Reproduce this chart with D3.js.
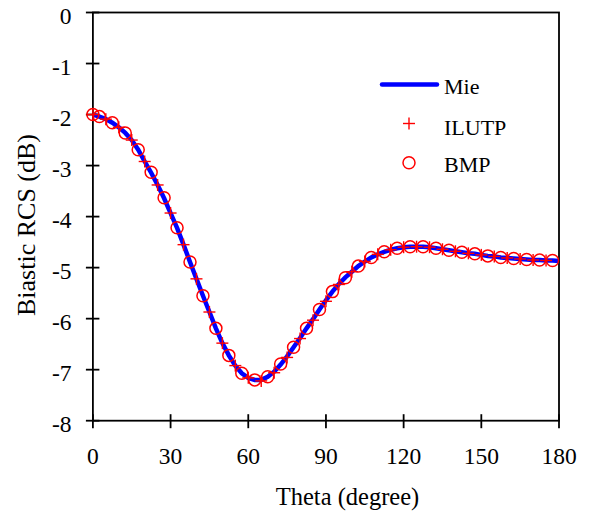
<!DOCTYPE html>
<html><head><meta charset="utf-8">
<script src="https://cdn.jsdelivr.net/npm/d3@7"></script>
<style>body{margin:0;background:#fff}svg{display:block}text{font-family:"Liberation Serif","Times New Roman",serif;fill:#000}</style>
</head><body>
<script>
// Mie curve, theta 0..180 step 2.5
const mieTheta = d3.range(0, 180.01, 2.5);
const mieValues = [-2.00,-2.04,-2.09,-2.16,-2.25,-2.36,-2.50,-2.69,-2.92,-3.14,-3.38,-3.64,-3.93,-4.22,-4.55,-4.89,-5.22,-5.55,-5.87,-6.19,-6.48,-6.72,-6.92,-7.07,-7.16,-7.20,-7.20,-7.14,-7.04,-6.90,-6.74,-6.56,-6.38,-6.19,-6.01,-5.82,-5.64,-5.47,-5.32,-5.19,-5.08,-4.97,-4.88,-4.80,-4.74,-4.69,-4.65,-4.62,-4.60,-4.59,-4.59,-4.59,-4.60,-4.62,-4.64,-4.66,-4.68,-4.70,-4.72,-4.73,-4.75,-4.77,-4.78,-4.80,-4.81,-4.82,-4.83,-4.84,-4.85,-4.85,-4.86,-4.86,-4.87];
// ILUTP, theta 0..175 step 5
const ilutpTheta = d3.range(0, 175.01, 5);
const ilutpValues = [-2.00,-2.09,-2.25,-2.50,-2.92,-3.38,-3.93,-4.55,-5.22,-5.87,-6.48,-6.92,-7.16,-7.22,-7.06,-6.76,-6.39,-6.03,-5.66,-5.33,-5.08,-4.88,-4.74,-4.65,-4.60,-4.59,-4.60,-4.64,-4.68,-4.72,-4.75,-4.78,-4.81,-4.83,-4.85,-4.86];
// BMP, theta 0, 2.5, 7.5, ..., 177.5
const bmpTheta = [0].concat(d3.range(2.5, 180, 5));
const bmpValues = [-2.00,-2.04,-2.16,-2.36,-2.69,-3.13,-3.63,-4.22,-4.89,-5.55,-6.19,-6.72,-7.07,-7.20,-7.14,-6.89,-6.56,-6.19,-5.82,-5.47,-5.20,-4.97,-4.80,-4.69,-4.62,-4.59,-4.59,-4.62,-4.66,-4.70,-4.73,-4.77,-4.80,-4.82,-4.84,-4.85,-4.86];
const xTicks = [0,30,60,90,120,150,180];
const yTicks = [0,-1,-2,-3,-4,-5,-6,-7,-8];

const W = 591, H = 514;
const svg = d3.select("body").append("svg").attr("width", W).attr("height", H);
const x = d3.scaleLinear().domain([0,180]).range([92.9, 559]);
const y = d3.scaleLinear().domain([-8,0]).range([420.7, 12.5]);

// frame
svg.append("rect").attr("x", x(0)).attr("y", y(0)).attr("width", x(180)-x(0)).attr("height", y(-8)-y(0))
  .attr("fill","none").attr("stroke","#000").attr("stroke-width",1.8);

// x ticks
const gx = svg.append("g");
xTicks.forEach(t => {
  gx.append("line").attr("x1", x(t)).attr("x2", x(t)).attr("y1", y(-8)-6.5).attr("y2", y(-8)+7.5).attr("stroke","#000").attr("stroke-width",1.8);
  gx.append("text").attr("x", x(t)).attr("y", 463.5).attr("text-anchor","middle").attr("font-size", 23.5).text(t);
});
const gy = svg.append("g");
yTicks.forEach(t => {
  gy.append("line").attr("x1", x(0)-7).attr("x2", x(0)+6.5).attr("y1", y(t)).attr("y2", y(t)).attr("stroke","#000").attr("stroke-width",1.8);
  gy.append("text").attr("x", 71.5).attr("y", y(t)+11.5).attr("text-anchor","end").attr("font-size", 23.5).text(t);
});

svg.append("text").attr("x", 347.5).attr("y", 505).attr("text-anchor","middle").attr("font-size", 24.5).text("Theta (degree)");
svg.append("text").attr("transform","translate(35,225) rotate(-90)").attr("text-anchor","middle").attr("font-size", 26).text("Biastic RCS (dB)");

// Mie line
const line = d3.line().x(d => x(d[0])).y(d => y(d[1]));
svg.append("path").datum(mieTheta.map((t,i)=>[t, mieValues[i]])).attr("d", line)
  .attr("fill","none").attr("stroke","#0000ff").attr("stroke-width",4.5);

// BMP circles
svg.append("g").selectAll("circle").data(bmpTheta.map((t,i)=>[t,bmpValues[i]])).join("circle")
  .attr("cx", d=>x(d[0])).attr("cy", d=>y(d[1])).attr("r", 6)
  .attr("fill","none").attr("stroke","#ff0000").attr("stroke-width",1.5);

// ILUTP crosses
const cross = (g, cx, cy, s) => {
  g.append("line").attr("x1", cx-s).attr("x2", cx+s).attr("y1", cy).attr("y2", cy);
  g.append("line").attr("x1", cx).attr("x2", cx).attr("y1", cy-s).attr("y2", cy+s);
};
const gc = svg.append("g").attr("stroke","#ff0000").attr("stroke-width",1.4);
ilutpTheta.forEach((t,i) => cross(gc, x(t), y(ilutpValues[i]), 6));

// legend
svg.append("line").attr("x1", 382).attr("x2", 437).attr("y1", 84.5).attr("y2", 84.5).attr("stroke","#0000ff").attr("stroke-width",4.5).attr("stroke-linecap","round");
svg.append("text").attr("x", 444).attr("y", 94).attr("font-size", 22).text("Mie");
const gl = svg.append("g").attr("stroke","#ff0000").attr("stroke-width",1.4);
cross(gl, 409, 123.5, 6);
svg.append("text").attr("x", 444).attr("y", 135).attr("font-size", 22).text("ILUTP");
svg.append("circle").attr("cx", 409).attr("cy", 162.7).attr("r", 6).attr("fill","none").attr("stroke","#ff0000").attr("stroke-width",1.5);
svg.append("text").attr("x", 444).attr("y", 172).attr("font-size", 22).text("BMP");
</script>
</body></html>
